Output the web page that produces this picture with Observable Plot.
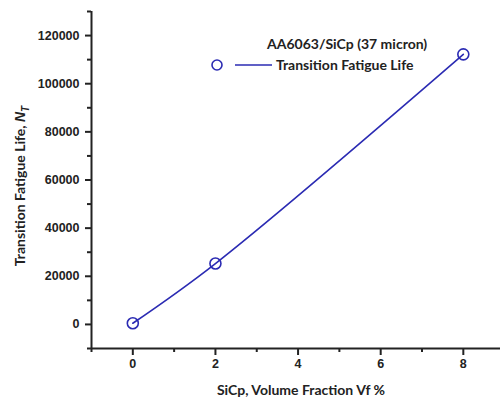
<!DOCTYPE html>
<html>
<head>
<meta charset="utf-8">
<script src="https://cdn.jsdelivr.net/npm/d3@7"></script>
<script src="https://cdn.jsdelivr.net/npm/@observablehq/plot@0.6"></script>
<style>
  html, body { margin: 0; padding: 0; background: #fff; overflow: hidden; }
  #chart svg { display: block; }
</style>
</head>
<body>
<div id="chart"></div>
<script>
// SiC particle volume fraction (%) and transition fatigue life N_T
const volumeFraction = [0, 2, 8];
const transitionLife = [500, 25300, 112200];

const xMajorTicks = [0, 2, 4, 6, 8];
const xMinorTicks = [-1, 1, 3, 5, 7];
const yMajorTicks = [0, 20000, 40000, 60000, 80000, 100000, 120000];
const yMinorTicks = [-10000, 10000, 30000, 50000, 70000, 90000, 110000, 130000];

const seriesName = "Transition Fatigue Life";
const legendTitle = "AA6063/SiCp (37 micron)";
const xTitle = "SiCp, Volume Fraction Vf %";
const yTitle = "Transition Fatigue Life, ";

const blue = "#2b2bb3";
const labelFont = "'Liberation Sans', Arial, sans-serif";
const titleFont = "Lato, 'Open Sans', sans-serif";

const rows = volumeFraction.map((v, i) => ({vf: v, life: transitionLife[i]}));

const chart = Plot.plot({
  width: 500,
  height: 400,
  marginLeft: 91,
  marginRight: 0,
  marginTop: 11,
  marginBottom: 52,
  style: {fontFamily: labelFont, fontSize: "12.5px", fontWeight: "bold", color: "#222", background: "#fff"},
  x: {domain: [-1, 8.9]},
  y: {domain: [-10000, 130000]},
  marks: [
    Plot.axisX({ticks: xMajorTicks, tickSize: 7, tickPadding: 4, strokeWidth: 2, label: null, tickFormat: d3.format("d")}),
    Plot.axisX({ticks: xMinorTicks, tickSize: 4, strokeWidth: 2, label: null, text: null}),
    Plot.axisY({ticks: yMajorTicks, tickSize: 6, tickPadding: 6, strokeWidth: 2, label: null, tickFormat: d3.format("d")}),
    Plot.axisY({ticks: yMinorTicks, tickSize: 4, strokeWidth: 2, label: null, text: null}),
    Plot.ruleX([-1], {stroke: "#222", strokeWidth: 2}),
    Plot.ruleY([-10000], {stroke: "#222", strokeWidth: 2}),
    Plot.line(rows, {x: "vf", y: "life", curve: "catmull-rom", stroke: blue, strokeWidth: 1.6}),
    Plot.dot(rows, {x: "vf", y: "life", r: 5.5, stroke: blue, strokeWidth: 1.6, fill: "none"})
  ]
});

const svg = d3.select(chart);

// axis titles
svg.append("text")
  .attr("x", 301).attr("y", 395)
  .attr("text-anchor", "middle")
  .style("font", `bold 14px ${titleFont}`).attr("fill", "#222")
  .text(xTitle);

const yt = svg.append("text")
  .attr("transform", "translate(25,186) rotate(-90)")
  .attr("text-anchor", "middle")
  .style("font", `bold 14px ${titleFont}`).attr("fill", "#222");
yt.append("tspan").text(yTitle);
yt.append("tspan").style("font", `italic bold 14px ${labelFont}`).text("N");
yt.append("tspan").style("font", `italic bold 10px ${labelFont}`).attr("dy", 4).text("T");

// legend
svg.append("text")
  .attr("x", 267).attr("y", 49)
  .attr("text-anchor", "start")
  .style("font", `bold 14px ${titleFont}`).attr("fill", "#222")
  .text(legendTitle);
svg.append("circle")
  .attr("cx", 217).attr("cy", 65).attr("r", 5)
  .attr("fill", "none").attr("stroke", blue).attr("stroke-width", 1.6);
svg.append("line")
  .attr("x1", 235).attr("x2", 272).attr("y1", 65).attr("y2", 65)
  .attr("stroke", blue).attr("stroke-width", 1.6);
svg.append("text")
  .attr("x", 276).attr("y", 70)
  .attr("text-anchor", "start")
  .style("font", `bold 14px ${titleFont}`).attr("fill", "#222")
  .text(seriesName);

document.getElementById("chart").append(chart);
</script>
</body>
</html>
